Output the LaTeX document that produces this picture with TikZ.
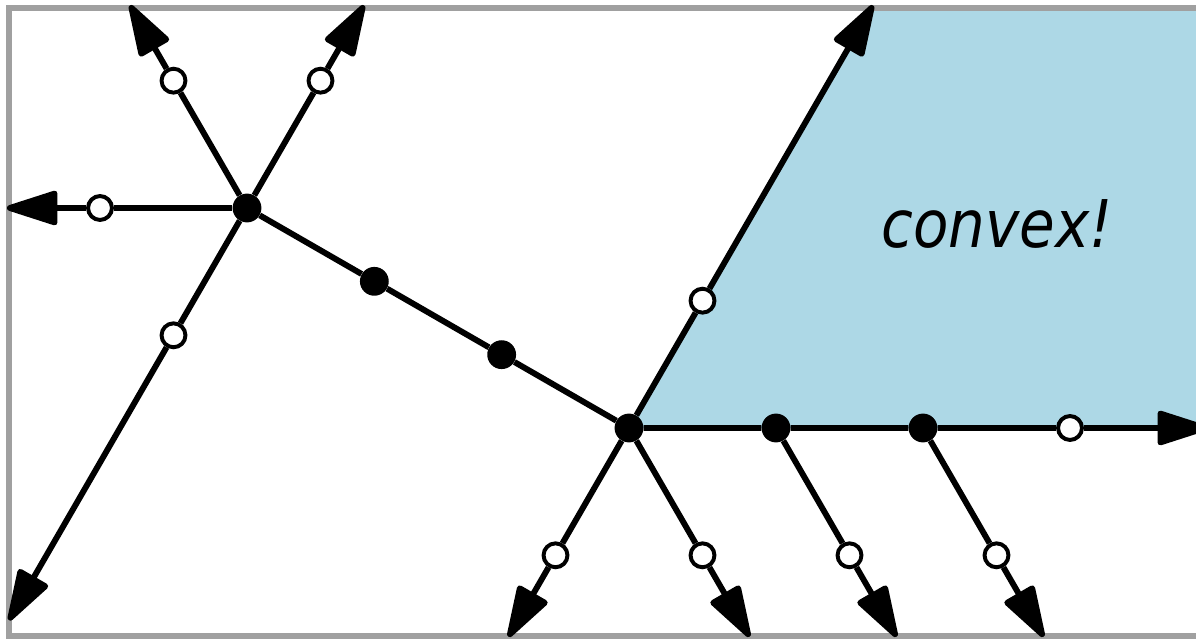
\documentclass[tikz,border=0pt]{standalone}
\usepackage{fontspec}
\newfontfamily\labelfont{DejaVu Sans}[FakeStretch=0.88]
\usetikzlibrary{arrows.meta,calc,backgrounds}
\definecolor{regionblue}{RGB}{173,216,230}
\definecolor{framegray}{RGB}{160,160,160}

\begin{document}
\begin{tikzpicture}[x=0.025cm, y=0.025cm,
    vtx/.style={circle, fill=black, inner sep=0pt, minimum size=20.5pt},
    hollow/.style={circle, draw=black, fill=white, line width=2.8pt,
                   inner sep=0pt, minimum size=17pt},
    seg/.style={line width=4.2pt, black},
    ray/.style={seg, -{Triangle[length=41pt, width=25pt, round]}},
    border/.style={draw=framegray, line width=4.2pt}
  ]
  \useasboundingbox (0,0) rectangle (1196,638);
  \clip (0,0) rectangle (1196,638);

  % the two branch points and the dots between them
  \node[vtx] (a) at (247,430) {};
  \node[vtx] (b) at (629,210) {};
  \node[vtx] (m1) at ($(a)!1/3!(b)$) {};
  \node[vtx] (m2) at ($(a)!2/3!(b)$) {};
  \node[vtx] (c1) at ($(b)+(147,0)$) {};
  \node[vtx] (c2) at ($(b)+(294,0)$) {};

  % open circles on the rays, one step out
  \node[hollow] (aw)  at ($(a)+(180:147)$) {};
  \node[hollow] (anw) at ($(a)+(120:147)$) {};
  \node[hollow] (ane) at ($(a)+(60:147)$) {};
  \node[hollow] (asw) at ($(a)+(240:147)$) {};
  \node[hollow] (bne) at ($(b)+(60:147)$) {};
  \node[hollow] (be)  at ($(b)+(441,0)$) {};
  \node[hollow] (bsw) at ($(b)+(240:147)$) {};
  \node[hollow] (bse) at ($(b)+(300:147)$) {};
  \node[hollow] (c1se) at ($(c1)+(300:147)$) {};
  \node[hollow] (c2se) at ($(c2)+(300:147)$) {};

  % where the rays end
  \coordinate (aw-end)  at ($(a)+(180:240)$);
  \coordinate (anw-end) at ($(a)+(120:234)$);
  \coordinate (ane-end) at ($(a)+(60:234)$);
  \coordinate (asw-end) at ($(a)+(240:476)$);
  \coordinate (bne-end) at ($(b)+(60:488)$);
  \coordinate (be-end)  at ($(b)+(579,0)$);
  \coordinate (bsw-end) at ($(b)+(240:241)$);
  \coordinate (bse-end) at ($(b)+(300:241)$);
  \coordinate (c1se-end) at ($(c1)+(300:241)$);
  \coordinate (c2se-end) at ($(c2)+(300:241)$);

  \begin{pgfonlayer}{background}
    \fill[regionblue] (b.center) -- (bne-end) -- (1230,633) -- (1230,210) -- cycle;
    \draw[border] (9,630) rectangle (1230,2);
  \end{pgfonlayer}

  \node[font=\labelfont\itshape\fontsize{46.8}{56}\selectfont, anchor=base,
        inner sep=0pt] (lbl) at (997,390) {convex!};

  \draw[seg] (a) -- (m1) -- (m2) -- (b) -- (c1) -- (c2) -- (be);
  \draw[ray] (be) -- (be-end);
  \foreach \v/\o in {a/aw, a/anw, a/ane, a/asw, b/bne, b/bsw, b/bse, c1/c1se, c2/c2se} {
    \draw[seg] (\v) -- (\o);
    \draw[ray] (\o) -- (\o-end);
  }
\end{tikzpicture}
\end{document}
